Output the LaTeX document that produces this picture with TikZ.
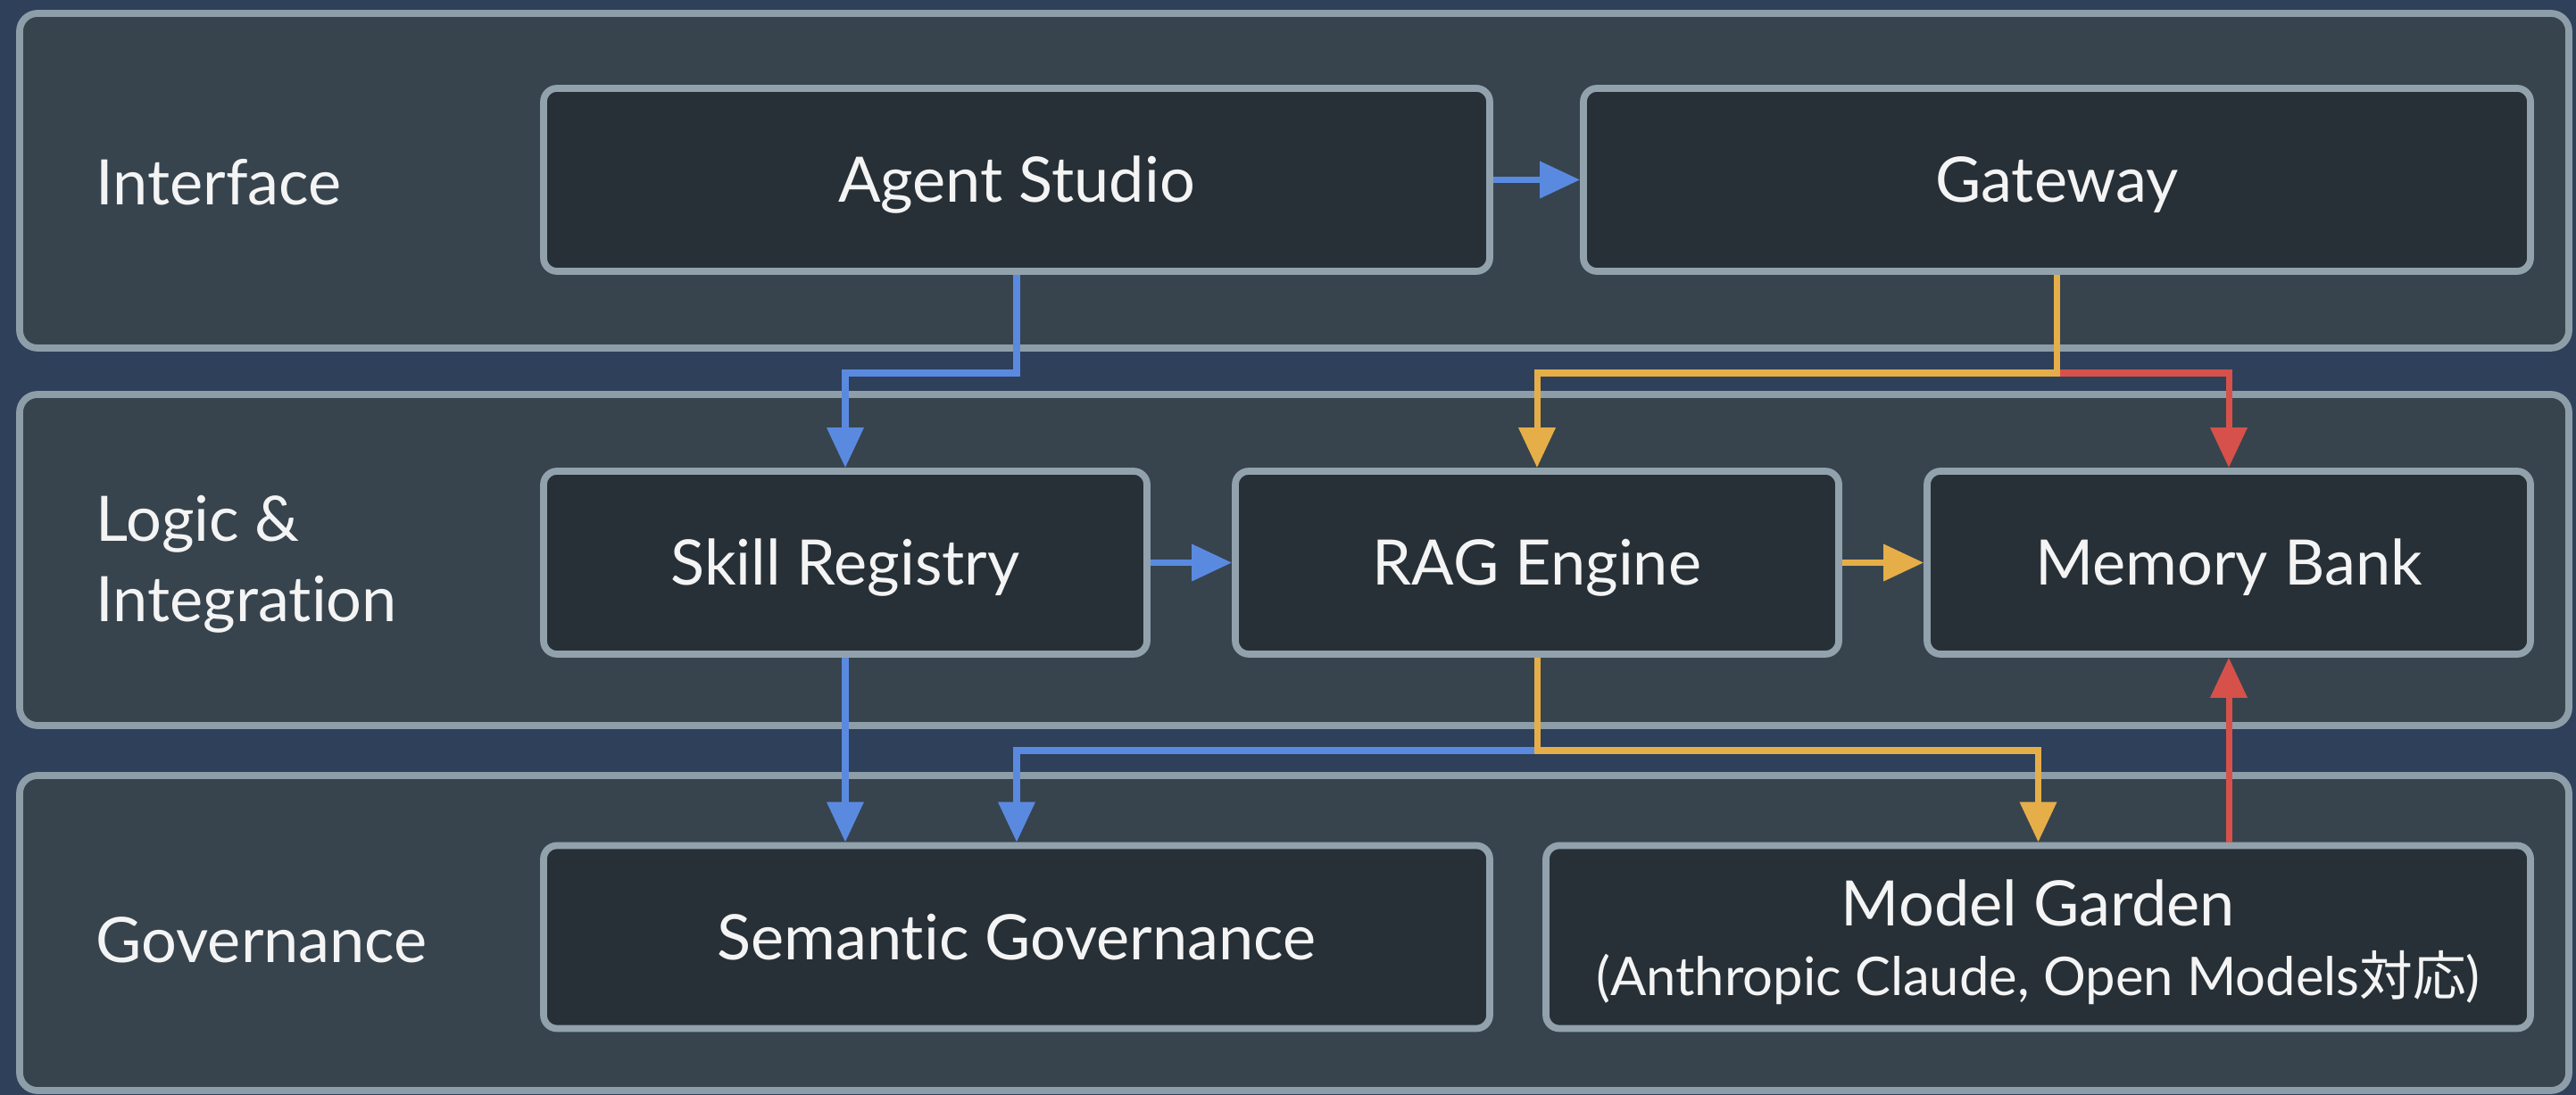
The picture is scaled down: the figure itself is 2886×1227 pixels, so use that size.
\documentclass[tikz,border=0pt]{standalone}
\usepackage{fontspec}
\setmainfont{Lato}[Ligatures=NoCommon]
\newfontfamily\cjk{Noto Sans CJK JP}
\usetikzlibrary{arrows.meta}
\definecolor{bgnavy}{HTML}{2E405A}
\definecolor{panelfill}{HTML}{37444E}
\definecolor{panelline}{HTML}{8E9EA9}
\definecolor{nodefill}{HTML}{273037}
\definecolor{nodeline}{HTML}{92A2AD}
\definecolor{ablue}{HTML}{5A8AE0}
\definecolor{aorange}{HTML}{E6AE48}
\definecolor{ared}{HTML}{D6514A}
\definecolor{txt}{HTML}{F4F4F4}
\begin{document}
\begin{tikzpicture}[x=0.1mm,y=-0.1mm,
  panel/.style={draw=panelline, fill=panelfill, line width=2.2pt, rounded corners=2mm},
  comp/.style={draw=nodeline, fill=nodefill, line width=2.2pt, rounded corners=1.5mm,
    text=txt, font=\fontsize{20}{22}\selectfont, align=center, inner sep=0pt,
    minimum height=20.5mm},
  oneline/.style={text height=14.4pt, text depth=0pt},
  layer/.style={anchor=west, text=txt, font=\fontsize{20}{25.5}\selectfont, align=left, inner sep=0pt},
  conn/.style={line width=2pt, -{Triangle[length=4.5mm,width=4mm]}},
]
\useasboundingbox (0,0) rectangle (2886,1227);
\fill[bgnavy] (0,0) rectangle (2886,1227);

% layer panels
\draw[panel] (22,15) rectangle (2878,390);
\draw[panel] (22,442) rectangle (2878,813);
\draw[panel] (22,869) rectangle (2878,1222);

% layer labels
\node[layer] (lint) at (107,204) {Interface};
\node[layer] (llog) at (107,632) {Logic \&\\Integration};
\node[layer] (lgov) at (107,1053) {Governance};

% components
\node[comp, oneline, minimum width=106mm] (as) at (1139,201.5) {Agent Studio};
\node[comp, oneline, minimum width=106.1mm] (gw) at (2304.5,201.5) {Gateway};
\node[comp, oneline, minimum width=67.6mm] (sr) at (947,630.5) {Skill Registry};
\node[comp, oneline, minimum width=67.6mm] (rag) at (1722,630.5) {RAG Engine};
\node[comp, oneline, minimum width=67.6mm] (mb) at (2497,630.5) {Memory Bank};
\node[comp, oneline, minimum width=106mm] (sg) at (1139,1050) {Semantic Governance};
\node[comp, minimum width=110.3mm] (mg) at (2283.5,1050)
  {\raisebox{-8.3pt}[0pt][0pt]{\begin{tabular}{@{}c@{}}Model Garden\\
   {\fontsize{17}{20}\selectfont (Anthropic Claude, Open Models{\cjk 対応})}\end{tabular}}};

\coordinate (j1) at (0,418);
\coordinate (j2) at (0,841);

% connectors
\draw[conn, ablue] (as.east) -- (gw.west);
\draw[conn, ablue] (as.south) -- (as.south |- j1) -| (sr.north);
\draw[conn, ared] (gw.south) -- (gw.south |- j1) -| (mb.north);
\draw[conn, aorange] (gw.south) -- (gw.south |- j1) -| (rag.north);
\draw[conn, ablue] (sr.east) -- (rag.west);
\draw[conn, aorange] (rag.east) -- (mb.west);
\draw[conn, ablue] (sr.south) -- (sr.south |- sg.north);
\draw[conn, ablue] (rag.south) -- (rag.south |- j2) -| (sg.north);
\draw[conn, aorange] (rag.south) -- (rag.south |- j2) -| (mg.north);
\draw[conn, ared] (mg.north -| mb.south) -- (mb.south);
\end{tikzpicture}
\end{document}
